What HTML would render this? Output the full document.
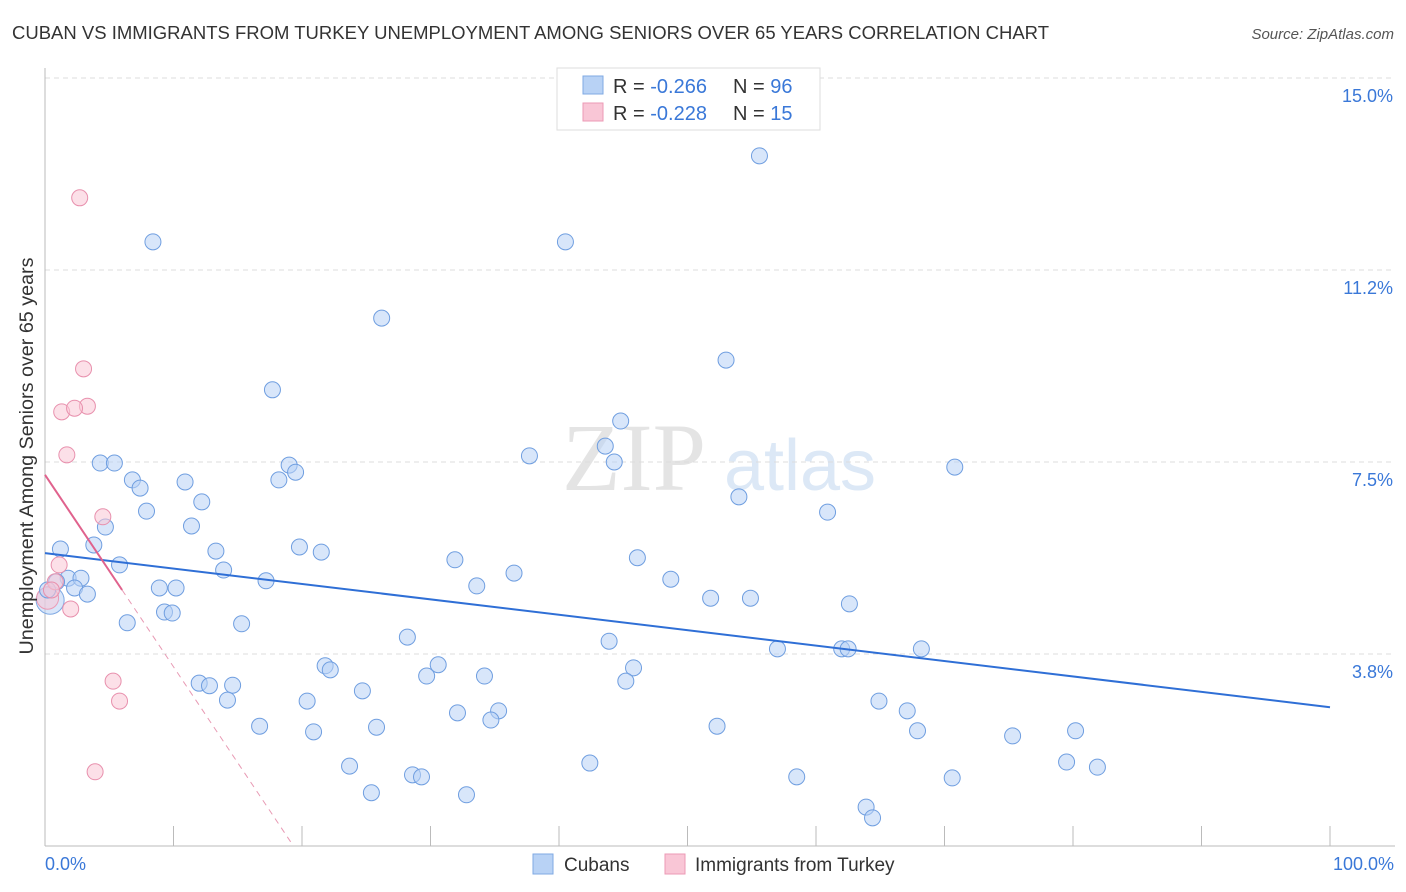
<!DOCTYPE html>
<html><head><meta charset="utf-8"><style>
body{margin:0;background:#fff;font-family:"Liberation Sans",sans-serif;}
svg{display:block}
</style></head><body>
<svg id="chart" width="1406" height="892" xmlns="http://www.w3.org/2000/svg">
<text x="12" y="39" font-size="18" fill="#333" textLength="1037" lengthAdjust="spacingAndGlyphs">CUBAN VS IMMIGRANTS FROM TURKEY UNEMPLOYMENT AMONG SENIORS OVER 65 YEARS CORRELATION CHART</text>
<text x="1394" y="39" font-size="15" fill="#555" text-anchor="end" font-style="italic">Source: ZipAtlas.com</text>
<text x="634" y="490" font-size="96" fill="#e4e4e4" text-anchor="middle" font-family="Liberation Serif, serif">ZIP</text>
<text x="800" y="490" font-size="72" fill="#dce8f6" text-anchor="middle">atlas</text>
<g id="grid"></g>
<g id="axes"></g>
<g id="marks"></g>
<text transform="translate(33,456) rotate(-90)" font-size="19.5" fill="#333" text-anchor="middle" textLength="397" lengthAdjust="spacingAndGlyphs">Unemployment Among Seniors over 65 years</text>
<text x="45" y="870" font-size="18" fill="#3a78d8">0.0%</text>
<text x="1394" y="870" font-size="18" fill="#3a78d8" text-anchor="end">100.0%</text>
<g>
<rect x="557" y="68" width="263" height="62" fill="#fff" stroke="#ddd"/>
<rect x="583" y="76" width="20" height="18" fill="#b8d2f5" stroke="#7fa9e3"/>
<rect x="583" y="103" width="20" height="18" fill="#f9c6d6" stroke="#ec9ab5"/>
<text x="613" y="93" font-size="20" fill="#333">R = <tspan fill="#3a78d8">-0.266</tspan><tspan x="733">N = </tspan><tspan fill="#3a78d8">96</tspan></text>
<text x="613" y="120" font-size="20" fill="#333">R = <tspan fill="#3a78d8">-0.228</tspan><tspan x="733">N = </tspan><tspan fill="#3a78d8"> 15</tspan></text>
</g>
<g>
<rect x="533" y="854" width="20" height="20" fill="#b8d2f5" stroke="#7fa9e3"/>
<text x="564" y="871" font-size="19" fill="#333">Cubans</text>
</g>
<g>
<rect x="665" y="854" width="20" height="20" fill="#f9c6d6" stroke="#ec9ab5"/>
<text x="695" y="871" font-size="19" fill="#333">Immigrants from Turkey</text>
</g>
</svg>
<script>
const yTicks=[3.75,7.5,11.25,15];
const yTickLabels=["3.8%","7.5%","11.2%","15.0%"];
const xTicks=[0,10,20,30,40,50,60,70,80,90,100];
const cubanX=[55.6,8.4,40.5,26.2,53.0,17.7,44.8,43.6,37.7,44.3,4.3,5.4,19.0,19.5,70.8,6.8,10.9,18.2,7.4,54.0,12.2,7.9,60.9,11.4,4.7,3.8,1.2,19.8,21.5,13.3,31.9,46.1,5.8,13.9,36.5,48.7,1.8,2.8,0.9,17.2,33.6,8.9,10.2,2.3,3.3,51.8,54.9,62.6,9.3,9.9,6.4,15.3,28.2,43.9,57.0,62.0,62.5,68.2,21.8,30.6,22.2,45.8,29.7,34.2,12.0,12.8,14.6,45.2,24.7,20.4,14.2,64.9,67.1,35.3,32.1,34.7,16.7,25.8,52.3,20.9,67.9,80.2,75.3,42.4,23.7,79.5,81.9,28.6,29.3,58.5,70.6,25.4,32.8,63.9,64.4,0.2];
const cubanY=[13.48,11.80,11.80,10.31,9.49,8.91,8.30,7.81,7.62,7.50,7.48,7.48,7.44,7.30,7.40,7.15,7.11,7.15,6.99,6.82,6.72,6.54,6.52,6.25,6.23,5.88,5.80,5.84,5.74,5.76,5.59,5.63,5.49,5.39,5.33,5.21,5.23,5.23,5.16,5.18,5.08,5.04,5.04,5.04,4.92,4.84,4.84,4.73,4.57,4.55,4.36,4.34,4.08,4.00,3.85,3.85,3.85,3.85,3.52,3.54,3.44,3.48,3.32,3.32,3.18,3.13,3.14,3.22,3.03,2.83,2.85,2.83,2.64,2.64,2.60,2.46,2.34,2.32,2.34,2.23,2.25,2.25,2.15,1.62,1.56,1.64,1.54,1.39,1.35,1.35,1.33,1.04,1.00,0.76,0.55,5.0];
const turkeyX=[2.7,3.0,3.3,1.3,2.3,1.7,4.5,1.1,0.8,0.5,2.0,5.3,5.8,3.9];
const turkeyY=[12.66,9.32,8.59,8.48,8.55,7.64,6.43,5.49,5.16,5.0,4.63,3.22,2.83,1.45];
const bigCuban=[0.4,4.8];
const bigTurkey=[0.2,4.84];
const cubanTrend=[5.72,2.71];
const turkeyTrend=[7.25,-0.375];
const turkeySolidEnd=6;
const NS="http://www.w3.org/2000/svg";
const X=v=>45+v*12.85;
const Y=v=>846-v*51.2;
function mk(tag,attrs,parent){const e=document.createElementNS(NS,tag);for(const k in attrs)e.setAttribute(k,attrs[k]);parent.appendChild(e);return e;}
const grid=document.getElementById('grid'),axes=document.getElementById('axes'),marks=document.getElementById('marks');
yTicks.forEach((t,i)=>{
 const l=mk('line',{x1:45,x2:1395,y1:Y(t),y2:Y(t),stroke:'#ddd','stroke-dasharray':'5,4'},grid);
 
 
 const tx=mk('text',{x:1393,y:Y(t)+24,'font-size':18,fill:'#3a78d8','text-anchor':'end'},grid);
 tx.textContent=yTickLabels[i];
 
 
});
const ax=mk('line',{x1:45,x2:45,y1:68,y2:846,stroke:'#bbb'},axes);


const bx=mk('line',{x1:45,x2:1395,y1:846,y2:846,stroke:'#bbb'},axes);


xTicks.forEach(t=>{
 const l=mk('line',{x1:X(t),x2:X(t),y1:826,y2:846,stroke:'#bbb'},axes);
 
 
});
function dot(x,y,r,fill,stroke,name){
 const c=mk('circle',{cx:X(x),cy:Y(y),r:r,fill:fill,'fill-opacity':0.55,stroke:stroke,'stroke-width':1},marks);
 
 
}
dot(bigCuban[0],bigCuban[1],14,'#b8d2f5','#7fa9e3','cuban-point-large');
dot(bigTurkey[0],bigTurkey[1],11,'#f9c6d6','#ec9ab5','turkey-point-large');
cubanX.forEach((x,i)=>dot(x,cubanY[i],8,'#b8d2f5','#6f9ee0','cuban-point'));
turkeyX.forEach((x,i)=>dot(x,turkeyY[i],8,'#f9c6d6','#e890ad','turkey-point'));
const ct=mk('line',{x1:X(0),y1:Y(cubanTrend[0]),x2:X(100),y2:Y(cubanTrend[1]),stroke:'#2f6fd6','stroke-width':2},marks);


const tz=-turkeyTrend[0]/turkeyTrend[1];
const ts=mk('line',{x1:X(0),y1:Y(turkeyTrend[0]),x2:X(turkeySolidEnd),y2:Y(turkeyTrend[0]+turkeyTrend[1]*turkeySolidEnd),stroke:'#e0628d','stroke-width':2},marks);


const td=mk('line',{x1:X(turkeySolidEnd),y1:Y(turkeyTrend[0]+turkeyTrend[1]*turkeySolidEnd),x2:X(tz),y2:Y(0),stroke:'#e89ab4','stroke-width':1,'stroke-dasharray':'6,5'},marks);


</script>
</body></html>
